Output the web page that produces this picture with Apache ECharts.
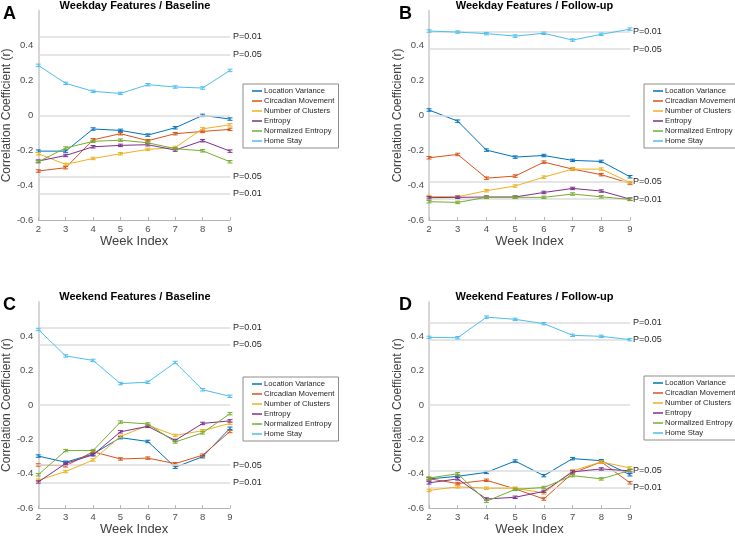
<!DOCTYPE html>
<html>
<head>
<meta charset="utf-8">
<script src="https://cdn.jsdelivr.net/npm/echarts@6/dist/echarts.min.js"></script>
<style>html,body{margin:0;padding:0;background:#fff;}#c{width:735px;height:537px;}</style>
</head>
<body>
<div id="c"></div>
<script>
// ---- data ----
const weeks = [2, 3, 4, 5, 6, 7, 8, 9];
const featureNames = ['Location Variance', 'Circadian Movement', 'Number of Clusters', 'Entropy', 'Normalized Entropy', 'Home Stay'];
const panelTitles = ['Weekday Features / Baseline', 'Weekday Features / Follow-up', 'Weekend Features / Baseline', 'Weekend Features / Follow-up'];
const panelLetters = ['A', 'B', 'C', 'D'];
const yTicks = [-0.6, -0.4, -0.2, 0, 0.2, 0.4];

// Panel A: weekday / baseline
const aLocVar = [-0.205, -0.205, -0.078, -0.086, -0.113, -0.071, 0.000, -0.021];
const aCirc   = [-0.319, -0.300, -0.140, -0.105, -0.145, -0.105, -0.092, -0.080];
const aClust  = [-0.220, -0.281, -0.247, -0.220, -0.195, -0.184, -0.077, -0.054];
const aEnt    = [-0.262, -0.230, -0.180, -0.172, -0.168, -0.199, -0.145, -0.205];
const aNEnt   = [-0.266, -0.187, -0.149, -0.142, -0.157, -0.191, -0.203, -0.266];
const aHome   = [0.287, 0.184, 0.138, 0.126, 0.176, 0.163, 0.157, 0.258];

// Panel B: weekday / follow-up
const bLocVar = [0.031, -0.033, -0.199, -0.239, -0.230, -0.258, -0.264, -0.352];
const bCirc   = [-0.243, -0.224, -0.360, -0.348, -0.268, -0.308, -0.340, -0.390];
const bClust  = [-0.465, -0.467, -0.432, -0.405, -0.354, -0.308, -0.308, -0.385];
const bEnt    = [-0.472, -0.470, -0.468, -0.468, -0.442, -0.419, -0.434, -0.480];
const bNEnt   = [-0.495, -0.499, -0.470, -0.470, -0.470, -0.451, -0.467, -0.482];
const bHome   = [0.484, 0.478, 0.469, 0.455, 0.471, 0.432, 0.465, 0.495];

// Panel C: weekend / baseline
const cLocVar = [-0.297, -0.333, -0.285, -0.190, -0.212, -0.362, -0.301, -0.135];
const cCirc   = [-0.349, -0.354, -0.272, -0.314, -0.309, -0.341, -0.292, -0.154];
const cClust  = [-0.438, -0.387, -0.320, -0.183, -0.118, -0.177, -0.149, -0.107];
const cEnt    = [-0.448, -0.340, -0.290, -0.156, -0.124, -0.206, -0.107, -0.092];
const cNEnt   = [-0.406, -0.265, -0.265, -0.099, -0.110, -0.215, -0.162, -0.050];
const cHome   = [0.440, 0.286, 0.260, 0.125, 0.133, 0.248, 0.089, 0.051];

// Panel D: weekend / follow-up
const dLocVar = [-0.430, -0.415, -0.392, -0.326, -0.411, -0.312, -0.324, -0.406];
const dCirc   = [-0.429, -0.457, -0.438, -0.488, -0.547, -0.396, -0.331, -0.453];
const dClust  = [-0.497, -0.476, -0.484, -0.484, -0.512, -0.383, -0.331, -0.366];
const dEnt    = [-0.453, -0.430, -0.547, -0.537, -0.503, -0.389, -0.372, -0.383];
const dNEnt   = [-0.425, -0.400, -0.560, -0.491, -0.480, -0.411, -0.430, -0.380];
const dHome   = [0.394, 0.392, 0.512, 0.499, 0.474, 0.406, 0.400, 0.381];

// significance thresholds
const thrLabels = ['P=0.01', 'P=0.05', 'P=0.05', 'P=0.01'];
const baselineThr = [0.45, 0.35, -0.35, -0.45];
const followupThr = [0.48, 0.38, -0.38, -0.48];
const errHalf = 0.007;

const panels = [
  [aLocVar, aCirc, aClust, aEnt, aNEnt, aHome],
  [bLocVar, bCirc, bClust, bEnt, bNEnt, bHome],
  [cLocVar, cCirc, cClust, cEnt, cNEnt, cHome],
  [dLocVar, dCirc, dClust, dEnt, dNEnt, dHome]
];
const panelThr = [baselineThr, followupThr, baselineThr, followupThr];

// ---- styling / layout ----
const FONT = 'Liberation Sans, Arial, Helvetica, sans-serif';
const colors = ['#0072BD', '#D95319', '#EDB120', '#7E2F8E', '#77AC30', '#4DBEEE'];
const grids = [
  {left: 30, top: 10.8, width: 200, height: 209.2},
  {left: 429, top: 10.8, width: 201, height: 209.2},
  {left: 30, top: 302, width: 200, height: 210.3},
  {left: 429, top: 302, width: 201, height: 210.3}
];
const legendPos = [
  {left: 243, top: 84},
  {left: 644, top: 84},
  {left: 243, top: 377},
  {left: 644, top: 376}
];
const titleTops = [-5, -5, 286, 286];
const letterTops = [5, 5, 296, 296];
const letterLefts = [3, 399, 3, 399];

const chart = echarts.init(document.getElementById('c'), null, {renderer: 'canvas'});

const xAxes = [], yAxes = [], series = [], titles = [], legends = [];
panels.forEach((panel, p) => {
  xAxes.push({
    type: 'value', gridIndex: p, min: 2, max: 9, interval: 1,
    name: 'Week Index', nameLocation: 'middle', nameGap: 14,
    nameTextStyle: {fontFamily: FONT, fontSize: 13, color: '#404040'},
    axisLine: {show: true, onZero: false, lineStyle: {color: '#b5b5b5', width: 1}},
    axisTick: {show: true, inside: true, length: 3, lineStyle: {color: '#b5b5b5'}},
    axisLabel: {fontFamily: FONT, fontSize: 9.5, color: '#4d4d4d', margin: 4},
    splitLine: {show: false}
  });
  yAxes.push({
    type: 'value', gridIndex: p, min: -0.6, max: 0.6, interval: 0.2,
    name: 'Correlation Coefficient (r)', nameLocation: 'middle', nameGap: 21,
    nameTextStyle: {fontFamily: FONT, fontSize: 12, color: '#404040'},
    axisLine: {show: true, onZero: false, lineStyle: {color: '#d6d6d6', width: 2}},
    axisTick: {show: false},
    axisLabel: {
      fontFamily: FONT, fontSize: 9.5, color: '#4d4d4d', margin: 5, showMaxLabel: false,
      formatter: v => {
        const r = Math.round(v * 10) / 10;
        if (yTicks.indexOf(r) < 0) return '';
        return r === 0 ? '0' : r.toFixed(1);
      }
    },
    splitLine: {show: false}
  });

  // threshold & zero reference lines (on a data-less line series)
  const thr = panelThr[p];
  series.push({
    type: 'line', name: 'ref' + p, xAxisIndex: p, yAxisIndex: p, data: [], silent: true,
    markLine: {
      silent: true, symbol: 'none', animation: false,
      lineStyle: {color: '#dcdcdc', width: 1.5, type: 'solid'},
      label: {show: true, position: 'end', distance: 3, fontFamily: FONT, fontSize: 9, color: '#262626',
        formatter: prm => prm.name},
      data: [
        {yAxis: 0, name: '', label: {show: false}},
        ...thr.map((t, k) => ({yAxis: t, name: thrLabels[k]}))
      ]
    }
  });

  panel.forEach((vals, s) => {
    const pts = vals.map((v, k) => [weeks[k], v]);
    series.push({
      type: 'line', name: featureNames[s], xAxisIndex: p, yAxisIndex: p,
      data: pts, showSymbol: false, symbol: 'none', animation: false,
      lineStyle: {color: colors[s], width: 1}, itemStyle: {color: colors[s]},
      z: 3 + s
    });
    series.push({
      type: 'custom', name: 'err' + p + '_' + s, xAxisIndex: p, yAxisIndex: p,
      data: pts, encode: {x: 0, y: 1}, animation: false, z: 3 + s,
      renderItem: (params, api) => {
        const x = api.value(0), y = api.value(1);
        const t = api.coord([x, y + errHalf]);
        const b = api.coord([x, y - errHalf]);
        const st = {stroke: colors[s], lineWidth: 1};
        return {type: 'group', children: [
          {type: 'line', shape: {x1: t[0], y1: t[1], x2: b[0], y2: b[1]}, style: st},
          {type: 'line', shape: {x1: t[0] - 2.5, y1: t[1], x2: t[0] + 2.5, y2: t[1]}, style: st},
          {type: 'line', shape: {x1: b[0] - 2.5, y1: b[1], x2: b[0] + 2.5, y2: b[1]}, style: st}
        ]};
      }
    });
  });

  const g = grids[p];
  titles.push({
    text: panelTitles[p], left: g.left + g.width / 2, top: titleTops[p], textAlign: 'center',
    textStyle: {fontFamily: FONT, fontSize: 11, fontWeight: 'bold', color: '#000'}
  });
  titles.push({
    text: panelLetters[p], left: letterLefts[p], top: letterTops[p], padding: 0,
    textStyle: {fontFamily: FONT, fontSize: 18, fontWeight: 'bold', color: '#000'}
  });

  legends.push({
    data: featureNames, orient: 'vertical', left: legendPos[p].left, top: legendPos[p].top,
    icon: 'rect', itemWidth: 10, itemHeight: 1.5, itemGap: 0,
    padding: [2, 4, 2, 9], backgroundColor: '#fff', borderColor: '#8c8c8c', borderWidth: 1,
    borderRadius: 0, selectedMode: false,
    textStyle: {fontFamily: FONT, fontSize: 7.7, lineHeight: 10, color: '#262626', padding: [0, 0, 0, -3]}
  });
});

chart.setOption({
  animation: false,
  backgroundColor: '#ffffff',
  title: titles,
  legend: legends,
  grid: grids,
  xAxis: xAxes,
  yAxis: yAxes,
  series: series
});
</script>
</body>
</html>
